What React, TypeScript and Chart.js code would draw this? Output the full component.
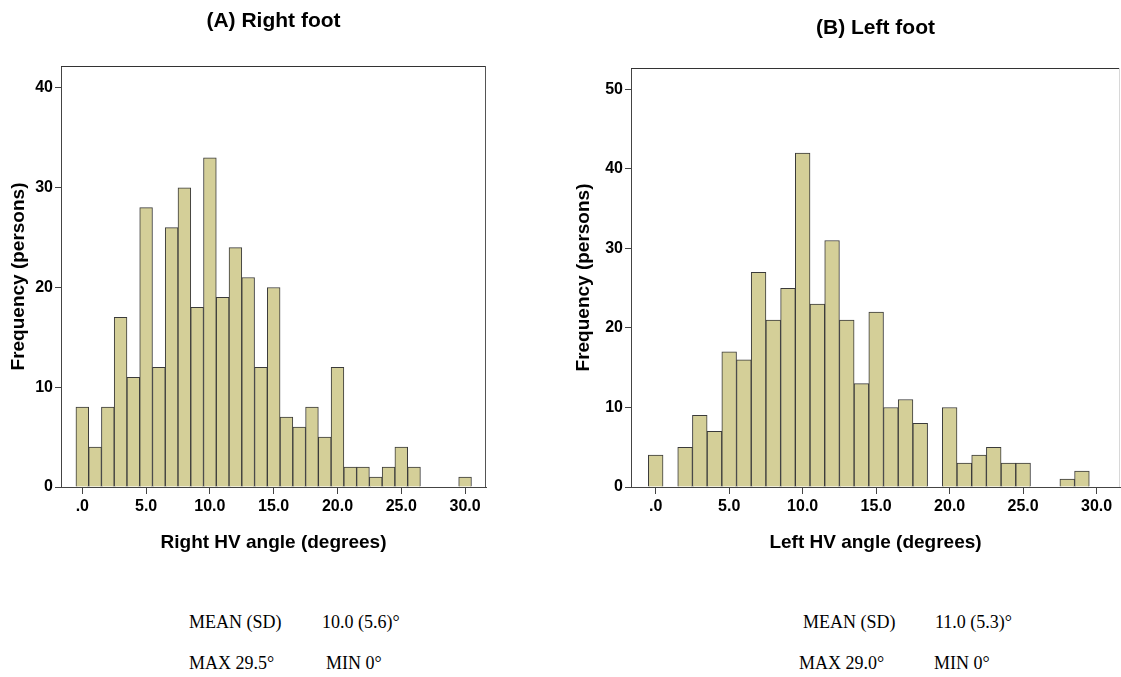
import React, { useEffect, useRef } from "react";
import { Chart, registerables } from "chart.js";

Chart.register(...registerables);

const rightBins = [0,1,2,3,4,5,6,7,8,9,10,11,12,13,14,15,16,17,18,19,20,21,22,23,24,25,26,27,28,29,30];
const rightCounts = [8,4,8,17,11,28,12,26,30,18,33,19,24,21,12,20,7,6,8,5,12,2,2,1,2,4,2,0,0,0,1];
const leftBins = [0,1,2,3,4,5,6,7,8,9,10,11,12,13,14,15,16,17,18,19,20,21,22,23,24,25,26,27,28,29];
const leftCounts = [4,0,5,9,7,17,16,27,21,25,42,23,31,21,13,22,10,11,8,0,10,3,4,5,3,3,0,0,1,2];
const xTicks = [0, 5, 10, 15, 20, 25, 30];
const rightYTicks = [0, 10, 20, 30, 40];
const leftYTicks = [0, 10, 20, 30, 40, 50];

const SANS = "'Liberation Sans', Arial, sans-serif";
const SERIF = "'Liberation Serif', 'Times New Roman', serif";
const BAR_FILL = "#d4cf98";
const BAR_EDGE = "#3a3a3a";
const AXIS = "#444";

type Cfg = {
  title: string;
  xTitle: string;
  bins: number[];
  counts: number[];
  yTicks: number[];
  xMin: number;
  xMax: number;
  yMax: number;
  yAxisWidth: number;
  yTitlePad: number;
  titlePad: { top: number; bottom: number };
  padRight: number;
  fullBox: boolean;
};

const boxPlugin = (fullBox: boolean) => ({
  id: "frameBox",
  afterDraw(chart: any) {
    const { ctx, chartArea } = chart;
    const { left, right, top, bottom } = chartArea;
    ctx.save();
    ctx.lineWidth = 1;
    ctx.strokeStyle = "#333";
    ctx.beginPath();
    ctx.moveTo(left, top + 0.5);
    ctx.lineTo(right, top + 0.5);
    ctx.stroke();
    ctx.beginPath();
    ctx.strokeStyle = fullBox ? "#555" : "#d8d8d8";
    ctx.moveTo(right - 0.5, top);
    ctx.lineTo(right - 0.5, bottom);
    ctx.stroke();
    ctx.restore();
  },
});

function Histogram({ cfg, style }: { cfg: Cfg; style: React.CSSProperties }) {
  const ref = useRef<HTMLCanvasElement | null>(null);
  useEffect(() => {
    if (!ref.current) return;
    const data = cfg.bins
      .map((b, i) => ({ x: b, y: cfg.counts[i] }))
      .filter((d) => d.y > 0);
    const chart = new Chart(ref.current, {
      type: "bar",
      data: {
        datasets: [
          {
            data,
            backgroundColor: BAR_FILL,
            borderColor: BAR_EDGE,
            borderWidth: 1,
            borderSkipped: "bottom",
            barPercentage: 1,
            categoryPercentage: 1,
          },
        ],
      },
      options: {
        animation: false,
        responsive: false,
        maintainAspectRatio: false,
        layout: { padding: { left: 0, right: cfg.padRight, top: 0, bottom: 0 } },
        plugins: {
          legend: { display: false },
          tooltip: { enabled: false },
          title: {
            display: true,
            text: cfg.title,
            fullSize: false,
            color: "#000",
            font: { family: SANS, size: 21, weight: "bold" },
            padding: cfg.titlePad,
          },
        },
        scales: {
          x: {
            type: "linear",
            offset: false,
            min: cfg.xMin,
            max: cfg.xMax,
            afterBuildTicks: (s: any) => {
              s.ticks = xTicks.map((v) => ({ value: v }));
            },
            afterFit: (s: any) => {
              s.height = 67;
            },
            ticks: {
              autoSkip: false,
              maxRotation: 0,
              padding: 3,
              color: "#000",
              font: { family: SANS, size: 16, weight: "bold" },
              callback: (v: any) => (Number(v) === 0 ? ".0" : Number(v).toFixed(1)),
            },
            grid: {
              display: true,
              offset: false,
              drawOnChartArea: false,
              drawTicks: true,
              tickLength: 7,
              color: AXIS,
            },
            border: { display: true, color: AXIS, width: 1 },
            title: {
              display: true,
              text: cfg.xTitle,
              color: "#000",
              font: { family: SANS, size: 19, weight: "bold" },
              padding: { top: 0, bottom: 0 },
            },
          },
          y: {
            type: "linear",
            min: 0,
            max: cfg.yMax,
            afterBuildTicks: (s: any) => {
              s.ticks = cfg.yTicks.map((v) => ({ value: v }));
            },
            afterFit: (s: any) => {
              s.width = cfg.yAxisWidth;
            },
            ticks: {
              padding: 2,
              color: "#000",
              font: { family: SANS, size: 16, weight: "bold" },
              callback: (v: any) => String(v),
            },
            grid: {
              display: true,
              drawOnChartArea: false,
              drawTicks: true,
              tickLength: 6,
              color: AXIS,
            },
            border: { display: true, color: AXIS, width: 1 },
            title: {
              display: true,
              text: "Frequency (persons)",
              color: "#000",
              font: { family: SANS, size: 19, weight: "bold" },
              padding: { top: cfg.yTitlePad, bottom: 0 },
            },
          },
        },
      },
      plugins: [boxPlugin(cfg.fullBox)],
    } as any);
    return () => chart.destroy();
  }, [cfg]);
  return <canvas ref={ref} width={style.width as number} height={style.height as number} style={style} />;
}

const rightFootCfg: Cfg = {
  title: "(A) Right foot",
  xTitle: "Right HV angle (degrees)",
  bins: rightBins,
  counts: rightCounts,
  yTicks: rightYTicks,
  xMin: -1.67,
  xMax: 31.64,
  yMax: 42.2,
  yAxisWidth: 61,
  yTitlePad: 7.6,
  titlePad: { top: 8.4, bottom: 32.4 },
  padRight: 74,
  fullBox: true,
};

const leftFootCfg: Cfg = {
  title: "(B) Left foot",
  xTitle: "Left HV angle (degrees)",
  bins: leftBins,
  counts: leftCounts,
  yTicks: leftYTicks,
  xMin: -1.68,
  xMax: 31.59,
  yMax: 52.7,
  yAxisWidth: 71,
  yTitlePad: 12.3,
  titlePad: { top: 15.4, bottom: 27.4 },
  padRight: 1,
  fullBox: false,
};

const statStyle = (left: number, top: number): React.CSSProperties => ({
  position: "absolute",
  left,
  top,
  fontFamily: SERIF,
  fontSize: 18,
  lineHeight: "20px",
  color: "#000",
  whiteSpace: "nowrap",
});

export default function App() {
  return (
    <div
      style={{
        position: "absolute",
        left: 0,
        top: 0,
        width: 1121,
        height: 677,
        background: "#fff",
        overflow: "hidden",
      }}
    >
      <Histogram
        cfg={rightFootCfg}
        style={{ position: "absolute", left: 0, top: 0, width: 560, height: 554 }}
      />
      <Histogram
        cfg={leftFootCfg}
        style={{ position: "absolute", left: 560, top: 0, width: 561, height: 554 }}
      />
      <div style={statStyle(189, 612)}>MEAN (SD)</div>
      <div style={statStyle(322, 612)}>10.0 (5.6)°</div>
      <div style={statStyle(189, 653)}>MAX 29.5°</div>
      <div style={statStyle(326, 653)}>MIN 0°</div>
      <div style={statStyle(803, 612)}>MEAN (SD)</div>
      <div style={statStyle(935, 612)}>11.0 (5.3)°</div>
      <div style={statStyle(799, 653)}>MAX 29.0°</div>
      <div style={statStyle(934, 653)}>MIN 0°</div>
    </div>
  );
}
